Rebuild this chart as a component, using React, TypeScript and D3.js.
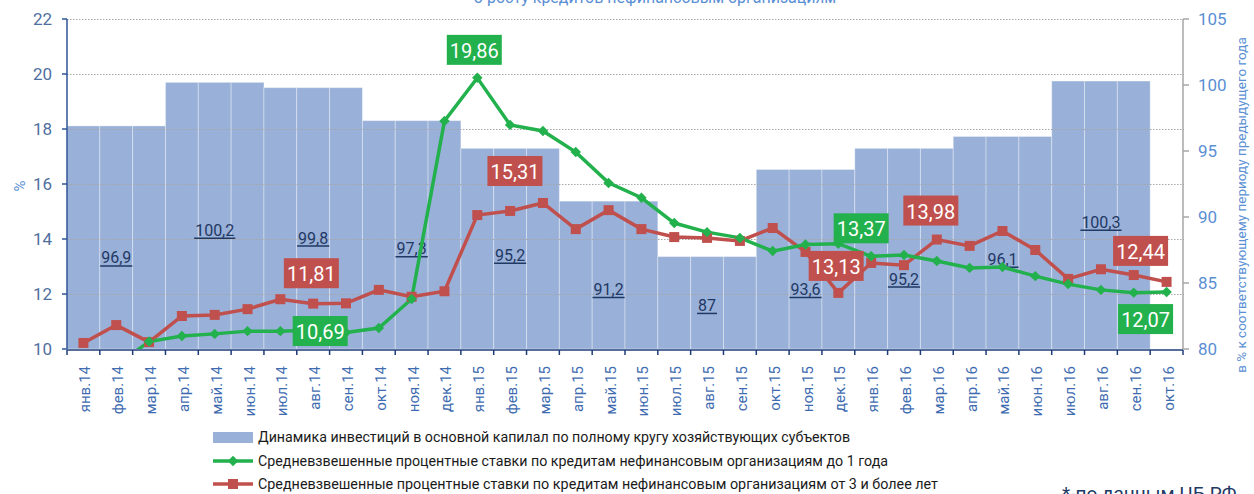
import React, { useEffect, useRef } from 'react';
import * as d3 from 'd3';

const months = [
  'янв.14', 'фев.14', 'мар.14', 'апр.14', 'май.14', 'июн.14', 'июл.14', 'авг.14', 'сен.14', 'окт.14', 'ноя.14', 'дек.14',
  'янв.15', 'фев.15', 'мар.15', 'апр.15', 'май.15', 'июн.15', 'июл.15', 'авг.15', 'сен.15', 'окт.15', 'ноя.15', 'дек.15',
  'янв.16', 'фев.16', 'мар.16', 'апр.16', 'май.16', 'июн.16', 'июл.16', 'авг.16', 'сен.16', 'окт.16',
];

// инвестиции в основной капитал, % к соотв. периоду пред. года (поквартально)
const investQuarters = [96.9, 100.2, 99.8, 97.3, 95.2, 91.2, 87, 93.6, 95.2, 96.1, 100.3];
const investLabels = ['96,9', '100,2', '99,8', '97,3', '95,2', '91,2', '87', '93,6', '95,2', '96,1', '100,3'];
// где стоят подписи столбцов (в единицах правой оси)
const investLabelAt = [86.9, 89.0, 88.4, 87.6, 87.1, 84.5, 83.3, 84.5, 85.3, 86.8, 89.6];

// ставки до 1 года
const rateShort = [
  9.3, 9.4, 10.27, 10.47, 10.55, 10.65, 10.65, 10.69, 10.6, 10.76, 11.82, 18.29,
  19.86, 18.15, 17.93, 17.16, 16.04, 15.5, 14.58, 14.25, 14.04, 13.56, 13.8, 13.83,
  13.37, 13.42, 13.2, 12.95, 12.98, 12.65, 12.36, 12.15, 12.05, 12.07,
];
// ставки от 3 лет
const rateLong = [
  10.22, 10.87, 10.25, 11.2, 11.24, 11.45, 11.81, 11.65, 11.66, 12.15, 11.9, 12.1,
  14.87, 15.02, 15.31, 14.36, 15.05, 14.36, 14.07, 14.04, 13.93, 14.4, 13.53, 12.04,
  13.13, 13.05, 13.98, 13.75, 14.29, 13.6, 12.55, 12.9, 12.69, 12.44,
];

const leftTicks = [10, 12, 14, 16, 18, 20, 22];
const rightTicks = [80, 85, 90, 95, 100, 105];

// выноски: ряд, индекс месяца, сдвиг центра плашки
const callouts = [
  { s: 'short', i: 12, dx: -3, dy: -28 },
  { s: 'long', i: 14, dx: -28, dy: -32 },
  { s: 'long', i: 6, dx: 31, dy: -26 },
  { s: 'short', i: 7, dx: 7, dy: 1 },
  { s: 'short', i: 24, dx: -10, dy: -28 },
  { s: 'long', i: 24, dx: -35, dy: 3 },
  { s: 'long', i: 26, dx: -6, dy: -29 },
  { s: 'long', i: 33, dx: -26, dy: -31 },
  { s: 'short', i: 33, dx: -21, dy: 27 },
];

const legendItems = [
  'Динамика инвестиций в основной капилал по полному кругу хозяйствующих субъектов',
  'Средневзвешенные процентные ставки по кредитам нефинансовым организациям до 1 года',
  'Средневзвешенные процентные ставки по кредитам нефинансовым организациям от 3 и более лет',
];

const GREEN = '#22b14c';
const RED = '#c0504d';
const BAR = '#99b0d8';
const AXIS_BLUE = '#5b8fd4';

export default function App() {
  const ref = useRef(null);

  useEffect(() => {
    const W = 1254, H = 494;
    const left = 67, right = 1183, top = 19, bottom = 349;
    const svg = d3.select(ref.current).attr('width', W).attr('height', H);
    svg.selectAll('*').remove();
    const font = 'Roboto, "DejaVu Sans", sans-serif';
    const narrow = '"Liberation Sans Narrow", Roboto, sans-serif';

    const x = d3.scaleBand().domain(months).range([left, right]).padding(0);
    const yL = d3.scaleLinear().domain([10, 22]).range([bottom, top]);
    const yR = d3.scaleLinear().domain([80, 105]).range([bottom, top]);
    const cx = (i) => x(months[i]) + x.bandwidth() / 2;

    svg.append('defs').append('clipPath').attr('id', 'plot')
      .append('rect').attr('x', left).attr('y', top).attr('width', right - left).attr('height', bottom - top);

    // заголовок (обрезан сверху)
    svg.append('text').attr('x', 655).attr('y', 3).attr('text-anchor', 'middle')
      .attr('font-family', font).attr('font-size', 16).attr('fill', AXIS_BLUE)
      .text('о росту кредитов нефинансовым организациям');

    // столбцы по месяцам, значение квартала
    const barData = months.map((m, i) => ({ m, v: investQuarters[Math.floor(i / 3)] }))
      .filter(d => d.v !== undefined);
    svg.append('g').selectAll('rect').data(barData).enter().append('rect')
      .attr('x', d => x(d.m))
      .attr('width', x.bandwidth())
      .attr('y', d => yR(d.v))
      .attr('height', d => yR(80) - yR(d.v))
      .attr('fill', BAR)
      .attr('stroke', 'rgba(255,255,255,0.35)')
      .attr('stroke-width', 1);

    // сетка
    svg.append('g').selectAll('line').data(leftTicks.filter(t => t > 10)).enter().append('line')
      .attr('x1', left).attr('x2', right + 60)
      .attr('y1', d => yL(d) + 0.5).attr('y2', d => yL(d) + 0.5)
      .attr('stroke', '#a6a6a6').attr('stroke-dasharray', '1.5,1.5').attr('stroke-width', 1);
    svg.append('rect').attr('x', right + 1).attr('y', 0).attr('width', 80).attr('height', H).attr('fill', '#fff');

    // подписи столбцов
    const bl = svg.append('g');
    investQuarters.forEach((v, q) => {
      const mid = q * 3 + 1;
      const t = bl.append('text')
        .attr('x', cx(mid)).attr('y', yR(investLabelAt[q]))
        .attr('text-anchor', 'middle').attr('dominant-baseline', 'central')
        .attr('font-family', font).attr('font-size', 16).attr('fill', '#1f3864')
        .text(investLabels[q]);
      const w = t.node().getComputedTextLength();
      bl.append('line')
        .attr('x1', cx(mid) - w / 2 - 1).attr('x2', cx(mid) + w / 2 + 1)
        .attr('y1', yR(investLabelAt[q]) + 8).attr('y2', yR(investLabelAt[q]) + 8)
        .attr('stroke', '#1f3864').attr('stroke-width', 1.5);
    });

    // линии
    const lines = svg.append('g').attr('clip-path', 'url(#plot)');
    const line = d3.line().x((d, i) => cx(i)).y(d => yL(d));
    lines.append('path').datum(rateLong).attr('d', line)
      .attr('fill', 'none').attr('stroke', RED).attr('stroke-width', 3.5);
    lines.append('path').datum(rateShort).attr('d', line)
      .attr('fill', 'none').attr('stroke', GREEN).attr('stroke-width', 3.5);

    lines.selectAll('.sq').data(rateLong).enter().append('rect')
      .attr('x', (d, i) => cx(i) - 5).attr('y', d => yL(d) - 5)
      .attr('width', 10).attr('height', 10).attr('fill', RED);
    lines.selectAll('.dm').data(rateShort).enter().append('path')
      .attr('d', d3.symbol(d3.symbolDiamond2, 70))
      .attr('transform', (d, i) => `translate(${cx(i)},${yL(d)})`)
      .attr('fill', GREEN);

    // выноски
    callouts.forEach(c => {
      const arr = c.s === 'short' ? rateShort : rateLong;
      const px = cx(c.i) + c.dx, py = yL(arr[c.i]) + c.dy;
      svg.append('rect').attr('x', px - 27.5).attr('y', py - 15).attr('width', 55).attr('height', 30)
        .attr('fill', c.s === 'short' ? GREEN : RED);
      svg.append('text').attr('x', px).attr('y', py + 1)
        .attr('text-anchor', 'middle').attr('dominant-baseline', 'central')
        .attr('font-family', font).attr('font-size', 20).attr('fill', '#fff')
        .text(arr[c.i].toFixed(2).replace('.', ','));
    });

    // левая ось
    svg.append('line').attr('x1', left).attr('x2', left).attr('y1', top).attr('y2', bottom)
      .attr('stroke', '#2f5597').attr('stroke-width', 1.5);
    const lt = svg.append('g');
    leftTicks.forEach(t => {
      lt.append('line').attr('x1', left - 5).attr('x2', left).attr('y1', yL(t)).attr('y2', yL(t))
        .attr('stroke', '#2f5597').attr('stroke-width', 1.5);
      lt.append('text').attr('x', 52).attr('y', yL(t)).attr('text-anchor', 'end')
        .attr('dominant-baseline', 'central').attr('font-family', font).attr('font-size', 17)
        .attr('fill', '#4f6fa0').text(t);
    });
    svg.append('text').attr('transform', `translate(20,186) rotate(-90)`)
      .attr('text-anchor', 'middle').attr('dominant-baseline', 'central')
      .attr('font-family', font).attr('font-size', 15).attr('fill', AXIS_BLUE).text('%');

    // правая ось
    svg.append('line').attr('x1', right).attr('x2', right).attr('y1', top).attr('y2', bottom)
      .attr('stroke', '#a6a6a6').attr('stroke-width', 1.5);
    rightTicks.forEach(t => {
      svg.append('line').attr('x1', right).attr('x2', right + 6).attr('y1', yR(t)).attr('y2', yR(t))
        .attr('stroke', '#a6a6a6').attr('stroke-width', 1.5);
      svg.append('text').attr('x', 1198).attr('y', yR(t)).attr('dominant-baseline', 'central')
        .attr('font-family', font).attr('font-size', 17).attr('fill', AXIS_BLUE).text(t);
    });
    svg.append('text').attr('transform', `translate(1241,205) rotate(-90)`)
      .attr('text-anchor', 'middle').attr('dominant-baseline', 'central')
      .attr('font-family', font).attr('font-size', 13.5).attr('fill', AXIS_BLUE)
      .text('в % к соответствующему периоду предыдущего года');

    // нижняя ось
    svg.append('line').attr('x1', left).attr('x2', right).attr('y1', bottom + 1).attr('y2', bottom + 1)
      .attr('stroke', '#1f3c78').attr('stroke-width', 1.5);
    const bt = svg.append('g');
    months.forEach((m, i) => {
      bt.append('line').attr('x1', x(m)).attr('x2', x(m)).attr('y1', bottom + 1).attr('y2', bottom + 6)
        .attr('stroke', '#1f3c78').attr('stroke-width', 1.5);
      bt.append('text').attr('transform', `translate(${cx(i) + 2},366) rotate(-90)`)
        .attr('text-anchor', 'end').attr('dominant-baseline', 'central')
        .attr('font-family', font).attr('font-size', 15).attr('fill', '#3f6cb0').text(m);
    });
    bt.append('line').attr('x1', right).attr('x2', right).attr('y1', bottom + 1).attr('y2', bottom + 6)
      .attr('stroke', '#1f3c78').attr('stroke-width', 1.5);

    // легенда
    const lg = svg.append('g');
    const ly = [437, 461, 484];
    const lw = [592, 630, 680];
    lg.append('rect').attr('x', 213).attr('y', 432).attr('width', 40).attr('height', 11).attr('fill', BAR);
    lg.append('line').attr('x1', 213).attr('x2', 253).attr('y1', ly[1]).attr('y2', ly[1])
      .attr('stroke', GREEN).attr('stroke-width', 3.5);
    lg.append('path').attr('d', d3.symbol(d3.symbolDiamond2, 70))
      .attr('transform', `translate(233,${ly[1]})`).attr('fill', GREEN);
    lg.append('line').attr('x1', 213).attr('x2', 253).attr('y1', ly[2]).attr('y2', ly[2])
      .attr('stroke', RED).attr('stroke-width', 3.5);
    lg.append('rect').attr('x', 228).attr('y', ly[2] - 5).attr('width', 10).attr('height', 10).attr('fill', RED);
    legendItems.forEach((t, i) => {
      lg.append('text').attr('x', 258).attr('y', ly[i]).attr('dominant-baseline', 'central')
        .attr('font-family', narrow).attr('font-size', 15).attr('fill', '#1a1a1a')
        .attr('textLength', lw[i]).attr('lengthAdjust', 'spacingAndGlyphs').text(t);
    });

    svg.append('text').attr('x', 1062).attr('y', 500)
      .attr('font-family', font).attr('font-size', 19).attr('fill', '#203864')
      .text('*-по данным ЦБ РФ');
  }, []);

  return <svg ref={ref} style={{ position: 'absolute', left: 0, top: 0 }}></svg>;
}
